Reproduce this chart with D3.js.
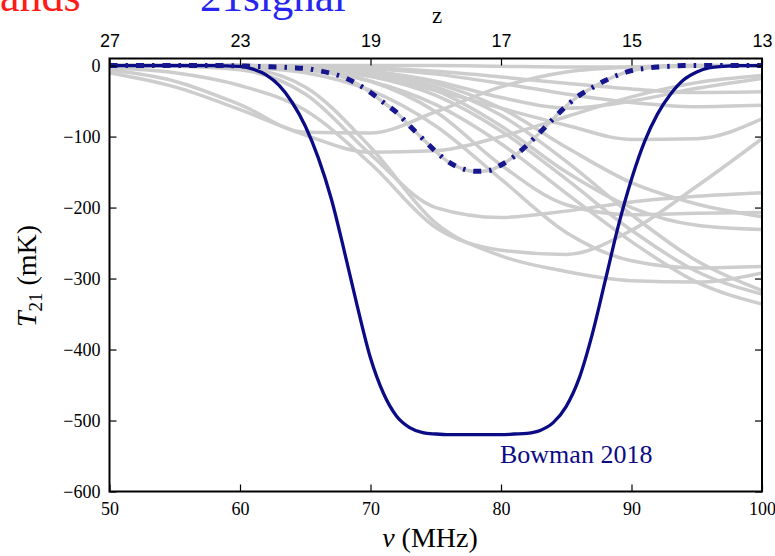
<!DOCTYPE html>
<html>
<head>
<meta charset="utf-8">
<script src="https://cdn.jsdelivr.net/npm/d3@7"></script>
<style>
  html, body { margin: 0; padding: 0; background: #ffffff; }
  svg { display: block; }
</style>
</head>
<body>
<svg id="chart" width="775" height="556"></svg>
<script>
// ---- axis ticks and labels ----
const nuTicks = [50, 60, 70, 80, 90, 100];
const zLabels = ["27", "23", "19", "17", "15", "13"];
const tempTicks = [-600, -500, -400, -300, -200, -100, 0];

// ---- frequency grids (MHz) ----
const nuFine = d3.range(50, 101, 1);
const nuCoarse = [50, 55, 60, 65, 70, 75, 80, 85, 90, 95, 100];

// ---- Bowman et al. 2018 absorption profile (mK), 1 MHz steps ----
const bowman2018 = [
  0, 0, 0, 0, 0, 0, 0, 0, 0, -0.5,
  -1, -5, -13, -28, -52, -85, -130, -188, -262, -340,
  -412, -462, -494, -510, -517, -519, -520, -520, -520, -520,
  -520, -519, -518, -514, -503, -480, -440, -378, -302, -225,
  -160, -107, -68, -40, -20, -9, -3, -1, 0, 0, 0
];

// ---- standard 21-cm model (mK), 1 MHz steps ----
const standardModel = [
  0, 0, 0, 0, 0, 0, 0, 0, 0, 0,
  -0.5, -1, -1.5, -2, -3, -4, -7, -11, -17, -26,
  -38, -52, -66, -85, -103, -121, -136, -145, -149, -148,
  -140, -128, -112, -94, -75, -57, -42, -31, -21, -13,
  -7, -4, -2, -1, 0, 0, 0, 0, 0, 0, 0
];

// ---- alternative models (mK), 5 MHz steps ----
const modelFlat   = [0, 0, 0, 0, 0, 0, -1, -2, -2, -1, 0];
const modelEarlyA = [-6, -22, -55, -94, -95, -65, -30, -9, -2, 0, 0];
const modelEarlyB = [-10, -30, -62, -98, -122, -120, -100, -72, -44, -24, -14];
const modelBroadA = [-3, -10, -28, -63, -138, -228, -260, -266, -232, -170, -103];
const modelBroadB = [0, 0, -3, -30, -115, -222, -268, -290, -303, -305, -292];
const modelMidA   = [0, -1, -6, -40, -125, -200, -214, -205, -192, -184, -179];
const modelLateA  = [0, 0, -1, -4, -15, -35, -60, -84, -104, -103, -75];
const modelLateB  = [0, 0, 0, -1, -3, -8, -16, -25, -33, -38, -37];
const modelLateC  = [0, 0, 0, -1, -4, -12, -25, -40, -52, -58, -56];
const modelMidB   = [0, 0, 0, -2, -8, -22, -45, -60, -50, -32, -18];
const modelDeepA  = [0, 0, -2, -10, -35, -85, -160, -235, -275, -285, -283];
const modelDeepB  = [0, 0, -1, -6, -22, -55, -110, -180, -248, -305, -336];
const modelDeepC  = [0, 0, -1, -4, -15, -42, -92, -160, -232, -290, -322];
const modelDeepD  = [0, 0, 0, -3, -10, -30, -70, -135, -210, -275, -317];
const modelMidC   = [0, 0, -1, -5, -22, -65, -140, -196, -210, -208, -207];
const modelMidD   = [0, 0, 0, -3, -12, -35, -85, -150, -200, -225, -231];
const modelMidE   = [0, 0, 0, -2, -8, -25, -60, -115, -165, -195, -213];

const grayModels = [
  modelFlat, modelEarlyA, modelEarlyB, modelBroadA, modelBroadB, modelMidA,
  modelLateA, modelLateB, modelLateC, modelMidB, modelDeepA, modelDeepB,
  modelDeepC, modelDeepD, modelMidC, modelMidD, modelMidE
];

// ---- layout ----
const plot = { left: 109.5, right: 762, top: 58.5, bottom: 491.5 };

const svg = d3.select("#chart");

const x = d3.scaleLinear().domain([50, 100]).range([plot.left, plot.right]);
const y = d3.scaleLinear().domain([-600, 10]).range([plot.bottom, plot.top]);

svg.append("defs").append("clipPath").attr("id", "plotClip")
  .append("rect")
  .attr("x", plot.left).attr("y", plot.top)
  .attr("width", plot.right - plot.left).attr("height", plot.bottom - plot.top);

const serif = "'Liberation Serif', 'Times New Roman', serif";
const sans = "'Liberation Sans', Arial, Helvetica, sans-serif";

// ---- heading text running off the top edge ----
svg.append("text")
  .attr("x", 0).attr("y", 11)
  .attr("font-family", serif).attr("font-size", 44)
  .attr("fill", "#ff1a1a")
  .text("ands");
svg.append("text")
  .attr("x", 200).attr("y", 11)
  .attr("font-family", serif).attr("font-size", 43)
  .attr("fill", "#2626f0")
  .text("21signal");

// ---- curves ----
const curves = svg.append("g").attr("clip-path", "url(#plotClip)");

const coarseLine = d3.line()
  .x((d, i) => x(nuCoarse[i]))
  .y(d => y(d))
  .curve(d3.curveMonotoneX);

const fineLine = d3.line()
  .x((d, i) => x(nuFine[i]))
  .y(d => y(d))
  .curve(d3.curveMonotoneX);

curves.selectAll("path.model")
  .data(grayModels)
  .join("path")
  .attr("class", "model")
  .attr("d", coarseLine)
  .attr("fill", "none")
  .attr("stroke", "#cdcdcd")
  .attr("stroke-width", 3.5)
  .attr("stroke-linecap", "round");

// standard model drawn in gray underneath its dash-dot overlay
curves.append("path")
  .datum(standardModel)
  .attr("d", fineLine)
  .attr("fill", "none")
  .attr("stroke", "#cdcdcd")
  .attr("stroke-width", 3.5);

curves.append("path")
  .datum(bowman2018)
  .attr("d", fineLine)
  .attr("fill", "none")
  .attr("stroke", "#0b0b86")
  .attr("stroke-width", 3.3)
  .attr("stroke-linejoin", "round");

curves.append("path")
  .datum(standardModel)
  .attr("d", fineLine)
  .attr("fill", "none")
  .attr("stroke", "#16168e")
  .attr("stroke-width", 5)
  .attr("stroke-dasharray", "8,8,2.5,8");

// ---- axes ----
function styleAxis(g, family) {
  g.select(".domain").remove();
  g.selectAll(".tick line").attr("stroke", "#000").attr("stroke-width", 1.2);
  g.selectAll(".tick text")
    .attr("font-family", family)
    .attr("font-size", 18)
    .attr("fill", "#000");
}

svg.append("g")
  .attr("transform", `translate(0,${plot.bottom})`)
  .call(d3.axisBottom(x).tickValues(nuTicks).tickSize(-7).tickPadding(11).tickFormat(d3.format("d")))
  .call(g => styleAxis(g, serif));

svg.append("g")
  .attr("transform", `translate(0,${plot.top})`)
  .call(d3.axisTop(x).tickValues(nuTicks).tickSize(-7).tickPadding(12)
    .tickFormat((d, i) => zLabels[i]))
  .call(g => styleAxis(g, sans));

svg.append("g")
  .attr("transform", `translate(${plot.left},0)`)
  .call(d3.axisLeft(y).tickValues(tempTicks).tickSize(-7).tickPadding(9).tickFormat(d3.format("d")))
  .call(g => styleAxis(g, serif));

svg.append("g")
  .attr("transform", `translate(${plot.right},0)`)
  .call(d3.axisRight(y).tickValues(tempTicks).tickSize(-7).tickFormat(""))
  .call(g => styleAxis(g, serif));

// plot frame
svg.append("rect")
  .attr("x", plot.left).attr("y", plot.top)
  .attr("width", plot.right - plot.left).attr("height", plot.bottom - plot.top)
  .attr("fill", "none").attr("stroke", "#000").attr("stroke-width", 2);

// ---- axis titles ----
svg.append("text")
  .attr("x", 437).attr("y", 23)
  .attr("text-anchor", "middle")
  .attr("font-family", serif).attr("font-size", 23)
  .text("z");

const xTitle = svg.append("text")
  .attr("x", 430).attr("y", 547)
  .attr("text-anchor", "middle")
  .attr("font-family", serif).attr("font-size", 28);
xTitle.append("tspan").attr("font-style", "italic").text("ν");
xTitle.append("tspan").text(" (MHz)");

const yTitle = svg.append("text")
  .attr("transform", "translate(36,276) rotate(-90)")
  .attr("text-anchor", "middle")
  .attr("font-family", serif).attr("font-size", 28);
yTitle.append("tspan").attr("font-style", "italic").text("T");
yTitle.append("tspan").attr("font-size", 19).attr("dy", 6).text("21");
yTitle.append("tspan").attr("dy", -6).text(" (mK)");

// ---- series annotation ----
svg.append("text")
  .attr("x", 500).attr("y", 463)
  .attr("font-family", serif).attr("font-size", 26)
  .attr("fill", "#0b0b86")
  .text("Bowman 2018");
</script>
</body>
</html>
